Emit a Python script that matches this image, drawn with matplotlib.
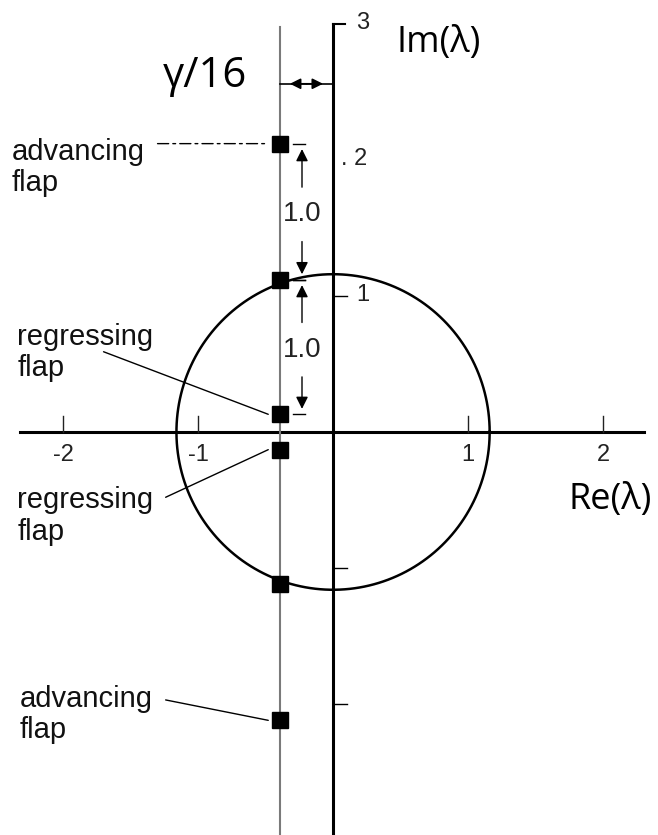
import numpy as np
import matplotlib
matplotlib.use('Agg')
import matplotlib.pyplot as plt

# data
re_ticks = [-2, -1, 1, 2]
re_tick_labels = ['-2', '-1', '1', '2']
im_ticks = [1, 2, 3, -1, -2]
im_tick_labels = ['1', '. 2', '3', '', '']
gamma_16 = 0.39                      # offset of the flap roots, -gamma/16
nu = 1.16                            # circle radius
flap_im = [2.12, 1.12, 0.13, -0.13, -1.12, -2.12]
flap_names = ['advancing\nflap', 'regressing\nflap', 'regressing\nflap', 'advancing\nflap']
flap_label_idx = [0, 2, 3, 5]

label_font = 'Liberation Sans'
title_font = 'Open Sans'

fig = plt.figure(figsize=(6.58, 8.35), dpi=100)
ax = fig.add_axes([0, 0, 1, 1])
ax.set_xlim(-2.467, 2.407)
ax.set_ylim(-2.963, 3.176)
ax.axis('off')

# axes
ax.plot([-2.32, 2.30], [0, 0], color='black', lw=2.2)
ax.plot([0, 0], [-2.97, 3.0], color='black', lw=2.2)
ax.plot([0, 0.09], [3.0, 3.0], color='black', lw=1.5)
for t in re_ticks:
    ax.plot([t, t], [0, 0.12], color='#222222', lw=1)
for t, lab in zip(re_ticks, re_tick_labels):
    ax.text(t, -0.17, lab, ha='center', va='center', fontsize=17, family=label_font,
            color='#222222')
for t, lab in zip(im_ticks, im_tick_labels):
    if t != 3 and t != 2:
        ax.plot([0, 0.1], [t, t], color='black', lw=1)
    if lab:
        ax.text(0.06 if t == 2 else 0.17, t + 0.01, lab, ha='left', va='center',
                fontsize=17, family=label_font, color='#222222')

ax.text(0.78, 2.86, 'Im(λ)', ha='center', va='center', fontsize=26, family=title_font)
ax.text(2.05, -0.5, 'Re(λ)', ha='center', va='center', fontsize=26, family=title_font)

# circle of radius nu
th = np.linspace(0, 2 * np.pi, 400)
ax.plot(nu * np.cos(th), nu * np.sin(th), color='black', lw=1.8)

# line of constant real part and the roots
ax.plot([-gamma_16, -gamma_16], [-2.97, 2.98], color='#7a7a7a', lw=1.5)
ax.plot([-gamma_16] * len(flap_im), flap_im, 's', color='black', ms=11)

# gamma/16 dimension
ax.plot([-gamma_16, 0], [2.56, 2.56], color='black', lw=1.2)
for tip in [-gamma_16 * 0.82, -gamma_16 * 0.19]:
    ax.annotate('', xy=(tip, 2.56), xytext=(-gamma_16 / 2, 2.56),
                arrowprops=dict(arrowstyle='-|>', color='black', lw=1.2, mutation_scale=16,
                                shrinkA=0, shrinkB=0))
ax.text(-0.95, 2.62, 'γ/16', ha='center', va='center', fontsize=30, family=title_font)

# 1.0 spacing dimensions
xd = -0.23
for top, bot in [(flap_im[0], flap_im[1]), (flap_im[1], flap_im[2])]:
    mid = (top + bot) / 2
    ax.plot([xd - 0.07, xd + 0.02], [top, top], color='black', lw=1)
    ax.plot([xd - 0.07, xd + 0.02], [bot, bot], color='black', lw=1)
    ax.annotate('', xy=(xd, top - 0.04), xytext=(xd, mid + 0.18),
                arrowprops=dict(arrowstyle='-|>', color='black', lw=1, mutation_scale=18,
                                shrinkA=0, shrinkB=0))
    ax.annotate('', xy=(xd, bot + 0.04), xytext=(xd, mid - 0.22),
                arrowprops=dict(arrowstyle='-|>', color='black', lw=1, mutation_scale=18,
                                shrinkA=0, shrinkB=0))
    ax.text(xd, mid - 0.02, '1.0', ha='center', va='center', fontsize=20, family=label_font,
            color='#222222')

# flap labels with leader lines
label_pos = [(-2.38, 2.16), (-2.34, 0.80), (-2.34, -0.40), (-2.32, -1.86)]
leader_start = [(-1.30, 2.12), (-1.70, 0.59), (-1.24, -0.48), (-1.24, -1.97)]
for name, idx, (tx, ty), (lx, ly) in zip(flap_names, flap_label_idx, label_pos, leader_start):
    ax.text(tx, ty, name, ha='left', va='top', fontsize=21, family=label_font,
            linespacing=1.15, color='#111111')
    ls = (0, (8, 3, 2, 3)) if idx == 0 else '-'
    ax.annotate('', xy=(-gamma_16 - 0.09, flap_im[idx]), xytext=(lx, ly),
                arrowprops=dict(arrowstyle='-', color='black', lw=1, linestyle=ls,
                                shrinkA=0, shrinkB=0))

fig.savefig('out.png', dpi=100)
